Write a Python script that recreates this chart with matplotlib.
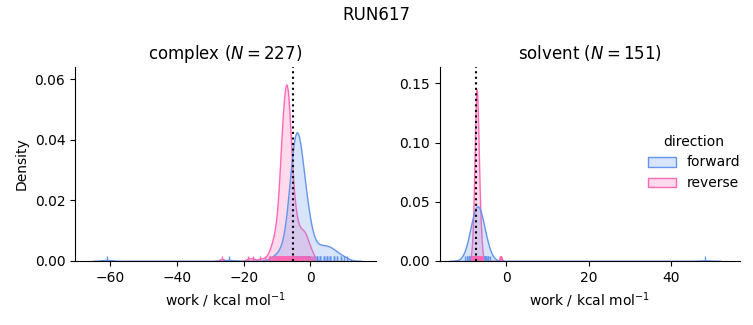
import numpy as np
import pandas as pd
import matplotlib
matplotlib.use('Agg')
import matplotlib.pyplot as plt
import seaborn as sns

complex_fwd_work = [-61.0, -24.4, -12, -11, -10, -9, -8, -7, -6.5, -6, -5.5, -5, -4.5, -4, -3.5, -3,
                    -2.5, -2, -1.5, -1, -0.5, 0, 1, 2, 3, 4, 5, 6, 7, 8, 9, 10, 11]
complex_fwd_count = [1, 1, 1, 1, 2, 3, 3, 5, 8, 10, 14, 18, 21, 23, 20, 15,
                     11, 11, 9, 8, 6, 5, 4, 4, 4, 4, 4, 4, 3, 2, 2, 1, 1]

complex_rev_work = [-26.5, -18.6, -17.2, -15.0, -13.5, -12.5, -12, -11.5, -11, -10.5, -10, -9.5, -9,
                    -8.5, -8, -7.5, -7, -6.5, -6, -5.5, -5, -4.5, -4, -3.5, -3, -2.5, -2, -1.5,
                    -1, -0.5, 0, 0.5, 1]
complex_rev_count = [1, 1, 1, 1, 1, 1, 2, 2, 3, 4, 5, 6, 14,
                     18, 21, 23, 26, 24, 15, 11, 8, 6, 5, 4, 4, 4, 4, 4,
                     3, 2, 2, 1, 1]

solvent_fwd_work = [-10, -9.5, -9, -8.5, -8, -7.5, -7, -6.5, -6, -5.5, -5, -4.5, -4, 48.2]
solvent_fwd_count = [1, 2, 5, 11, 18, 24, 27, 24, 17, 11, 6, 3, 1, 1]

solvent_rev_work = [-8.5, -8.25, -8, -7.75, -7.5, -7.25, -7, -6.75, -6.5, -6.25, -6, -5.75, -1.5, -1.3]
solvent_rev_count = [1, 3, 7, 15, 25, 31, 27, 19, 11, 6, 3, 1, 1, 1]

phases = ['complex', 'solvent']
n_samples = [227, 151]
estimates = [-5.2, -7.35]   # dotted line per phase

groups = [
    ('complex', 'forward', complex_fwd_work, complex_fwd_count),
    ('complex', 'reverse', complex_rev_work, complex_rev_count),
    ('solvent', 'forward', solvent_fwd_work, solvent_fwd_count),
    ('solvent', 'reverse', solvent_rev_work, solvent_rev_count),
]
frames = []
for phase, direction, work, count in groups:
    w = np.repeat(work, count)
    frames.append(pd.DataFrame({'work': w, 'direction': direction, 'phase': phase}))
df = pd.concat(frames, ignore_index=True)

g = sns.displot(df, x='work', hue='direction', col='phase', kind='kde', fill=True, rug=True,
                hue_order=['forward', 'reverse'], col_order=phases,
                palette={'forward': 'cornflowerblue', 'reverse': 'hotpink'},
                bw_adjust=0.75, facet_kws=dict(sharex=False, sharey=False),
                height=3, aspect=1.1)

xlims = [(-70.5, 19.5), (-16.2, 56.7)]
ylims = [(0, 0.064), (0, 0.1638)]
for ax, phase, n, est, xl, yl in zip(g.axes.flat, phases, n_samples, estimates, xlims, ylims):
    ax.set_title(f'{phase} ($N = {n}$)', fontsize=12)
    ax.axvline(est, color='black', ls=':', lw=1.5)
    ax.set_xlim(xl)
    ax.set_ylim(yl)
    ax.set_xlabel('work / kcal mol$^{-1}$')
g.axes.flat[0].set_ylabel('Density')

g.figure.set_size_inches(7.53, 3.25)
g.figure.subplots_adjust(left=0.0996, right=0.983, bottom=0.197, top=0.794, wspace=0.213)
g.figure.suptitle('RUN617', fontsize=12)
g.figure.savefig('out.png', dpi=100)
